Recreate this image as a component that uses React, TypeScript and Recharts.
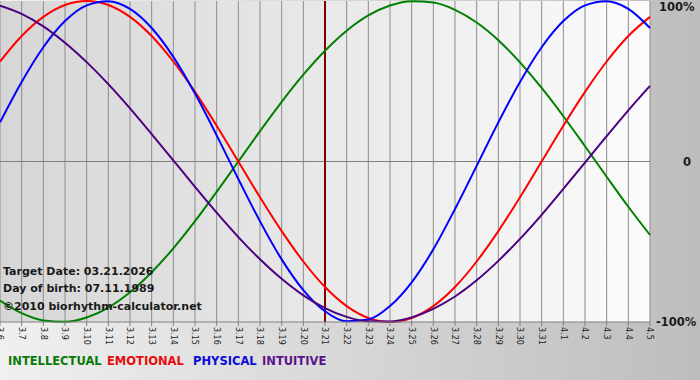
import React from "react";
import {
  LineChart,
  Line,
  XAxis,
  YAxis,
  CartesianGrid,
  ReferenceLine,
} from "recharts";

const days = [
  "3.6", "3.7", "3.8", "3.9", "3.10", "3.11", "3.12", "3.13", "3.14", "3.15",
  "3.16", "3.17", "3.18", "3.19", "3.20", "3.21", "3.22", "3.23", "3.24", "3.25",
  "3.26", "3.27", "3.28", "3.29", "3.30", "3.31", "4.1", "4.2", "4.3", "4.4", "4.5",
];

const intellectual = [
  -0.866, -0.945, -0.99, -0.999, -0.972, -0.91, -0.815, -0.69, -0.541, -0.372,
  -0.189, 0.0, 0.189, 0.372, 0.541, 0.69, 0.815, 0.91, 0.972, 0.999,
  0.99, 0.945, 0.866, 0.756, 0.618, 0.458, 0.282, 0.095, -0.095, -0.282, -0.458,
];

const emotional = [
  0.623, 0.782, 0.901, 0.975, 1.0, 0.975, 0.901, 0.782, 0.623, 0.434,
  0.223, 0.0, -0.223, -0.434, -0.623, -0.782, -0.901, -0.975, -1.0, -0.975,
  -0.901, -0.782, -0.623, -0.434, -0.223, 0.0, 0.223, 0.434, 0.623, 0.782, 0.901,
];

const physical = [
  0.244, 0.496, 0.712, 0.875, 0.973, 0.999, 0.951, 0.832, 0.652, 0.423,
  0.163, -0.109, -0.373, -0.61, -0.801, -0.933, -0.996, -0.985, -0.901, -0.753,
  -0.547, -0.296, -0.027, 0.244, 0.496, 0.712, 0.875, 0.973, 0.999, 0.951, 0.832,
];

const intuitive = [
  0.971, 0.92, 0.842, 0.74, 0.619, 0.482, 0.331, 0.171, 0.007, -0.158,
  -0.319, -0.471, -0.609, -0.731, -0.834, -0.913, -0.968, -0.996, -0.997, -0.971,
  -0.918, -0.841, -0.74, -0.619, -0.482, -0.332, -0.171, -0.007, 0.158, 0.319, 0.471,
];

const yTicks = [-1, 0, 1];
const yTickLabels: Record<string, string> = { "-1": "-100%", "0": "0", "1": "100%" };

const targetDay = "3.21";

const COLORS = {
  intellectual: "#008000",
  emotional: "#ff0000",
  physical: "#0000ff",
  intuitive: "#4b0082",
};

const FONT = "'DejaVu Sans', Verdana, sans-serif";

const data = days.map((day, i) => ({
  day,
  intellectual: intellectual[i],
  emotional: emotional[i],
  physical: physical[i],
  intuitive: intuitive[i],
}));

function DayTick(props: any) {
  const { x, y, payload } = props;
  return (
    <text
      x={x}
      y={y}
      transform={`rotate(90 ${x} ${y})`}
      textAnchor="start"
      dy="0.35em"
      fontSize={8}
      fontFamily={FONT}
      fill="#222"
    >
      {payload.value}
    </text>
  );
}

function PercentTick(props: any) {
  const { y, payload } = props;
  const v = payload.value;
  // 0 sits further right than the other two labels
  const x = v === 0 ? 683 : v === 1 ? 659 : 656;
  const dy = v === 1 ? -2 : 0;
  return (
    <text
      x={x}
      y={y + dy}
      dominantBaseline="central"
      fontSize={11.5}
      fontWeight="bold"
      fontFamily={FONT}
      fill="#1a1a1a"
    >
      {yTickLabels[String(v)]}
    </text>
  );
}

const infoLines = [
  "Target Date: 03.21.2026",
  "Day of birth: 07.11.1989",
  "\u00a92010 biorhythm-calculator.net",
];
const infoTops = [265, 282, 300];

const legendItems = [
  { label: "INTELLECTUAL", color: "#0a7a0a", left: 8 },
  { label: "EMOTIONAL", color: "#e80c0c", left: 107 },
  { label: "PHYSICAL", color: "#0c0cd8", left: 193 },
  { label: "INTUITIVE", color: "#5a148a", left: 262 },
];

export default function App() {
  return (
    <div
      style={{
        position: "absolute",
        left: 0,
        top: 0,
        width: 700,
        height: 380,
        background: "linear-gradient(to right, #f0f0f0, #bdbdbd)",
        overflow: "hidden",
      }}
    >
      <LineChart
        width={700}
        height={380}
        data={data}
        margin={{ top: 1, right: 0, bottom: 0, left: 0 }}
      >
        <defs>
          <linearGradient id="plotBg" x1="0" y1="0" x2="1" y2="0">
            <stop offset="0%" stopColor="#d6d6d6" />
            <stop offset="100%" stopColor="#fbfbfb" />
          </linearGradient>
        </defs>
        <CartesianGrid
          horizontal={false}
          stroke="#8c8c8c"
          fill="url(#plotBg)"
          fillOpacity={1}
        />
        <XAxis
          dataKey="day"
          interval={0}
          height={58}
          tickSize={4}
          tickMargin={1}
          stroke="#808080"
          tick={<DayTick />}
        />
        <YAxis
          orientation="right"
          width={50}
          domain={[-1, 1]}
          ticks={yTicks}
          axisLine={false}
          tickLine={false}
          tick={<PercentTick />}
        />
        <ReferenceLine y={0} stroke="#808080" />
        <ReferenceLine x={targetDay} stroke="#800000" strokeWidth={2} />
        <Line
          type="monotone"
          dataKey="intellectual"
          stroke={COLORS.intellectual}
          strokeWidth={2}
          dot={false}
          isAnimationActive={false}
        />
        <Line
          type="monotone"
          dataKey="emotional"
          stroke={COLORS.emotional}
          strokeWidth={2}
          dot={false}
          isAnimationActive={false}
        />
        <Line
          type="monotone"
          dataKey="physical"
          stroke={COLORS.physical}
          strokeWidth={2}
          dot={false}
          isAnimationActive={false}
        />
        <Line
          type="monotone"
          dataKey="intuitive"
          stroke={COLORS.intuitive}
          strokeWidth={2}
          dot={false}
          isAnimationActive={false}
        />
      </LineChart>

      {infoLines.map((line, i) => (
        <div
          key={line}
          style={{
            position: "absolute",
            left: 3,
            top: infoTops[i],
            fontFamily: FONT,
            fontSize: 11,
            fontWeight: "bold",
            lineHeight: "13px",
            color: "#1a1a1a",
            whiteSpace: "nowrap",
          }}
        >
          {line}
        </div>
      ))}

      {legendItems.map((item) => (
        <div
          key={item.label}
          style={{
            position: "absolute",
            left: item.left,
            top: 354,
            fontFamily: FONT,
            fontSize: 11.5,
            fontWeight: "bold",
            lineHeight: "14px",
            color: item.color,
            whiteSpace: "nowrap",
          }}
        >
          {item.label}
        </div>
      ))}
    </div>
  );
}
